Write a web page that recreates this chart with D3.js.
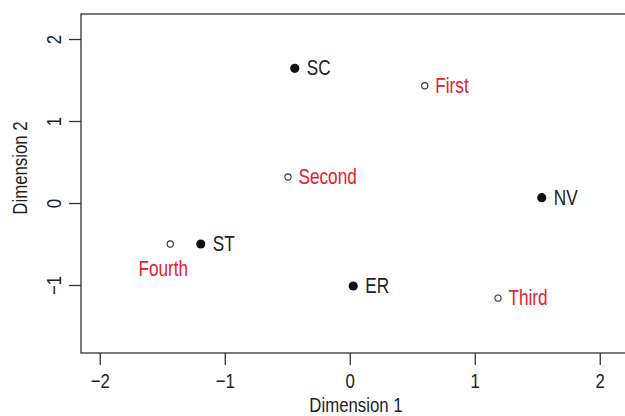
<!DOCTYPE html>
<html>
<head>
<meta charset="utf-8">
<script src="https://cdn.jsdelivr.net/npm/d3@7"></script>
<style>
  html, body { margin: 0; padding: 0; background: #fff; }
  svg { display: block; }
  text { font-family: "Liberation Sans", Arial, sans-serif; }
</style>
</head>
<body>
<svg id="chart" width="625" height="416"></svg>
<script>
// Group configuration (filled points, black labels)
const groupNames = ["SC", "NV", "ST", "ER"];
const groupDim1 = [-0.44, 1.536, -1.192, 0.028];
const groupDim2 = [1.643, 0.065, -0.50, -1.012];

// Period configuration (open points, red labels)
const periodNames = ["First", "Second", "Third", "Fourth"];
const periodDim1 = [0.60, -0.494, 1.186, -1.436];
const periodDim2 = [1.43, 0.317, -1.159, -0.50];

const xTicks = [-2, -1, 0, 1, 2];
const yTicks = [-1, 0, 1, 2];
const xTitle = "Dimension 1";
const yTitle = "Dimension 2";

const svg = d3.select("#chart");
const box = { left: 81, right: 631, top: 14, bottom: 353 };

const x = d3.scaleLinear().domain([-2.15, 2.25]).range([box.left, box.right]);
const y = d3.scaleLinear().domain([-1.829, 2.305]).range([box.bottom, box.top]);

const fs = 21.5;       // point labels
const axisFs = 21;     // tick labels and axis titles
const narrow = 0.8;    // horizontal squeeze for a condensed look
const ink = "#222";
const red = "#e8202a";
const minus = d => d < 0 ? "\u2212" + Math.abs(d) : String(d);

// text placed at (px, py) and horizontally condensed
function label(parent, px, py, str, opts = {}) {
  const rot = opts.rotate ? ` rotate(${opts.rotate})` : "";
  return parent.append("text")
    .attr("transform", `translate(${px},${py})${rot} scale(${narrow},1)`)
    .attr("text-anchor", opts.anchor || "start")
    .attr("font-size", opts.size || fs)
    .attr("fill", opts.fill || ink)
    .text(str);
}

// plot frame
svg.append("rect")
  .attr("x", box.left).attr("y", box.top)
  .attr("width", box.right - box.left).attr("height", box.bottom - box.top)
  .attr("fill", "none").attr("stroke", "#333").attr("stroke-width", 1.3);

// axes
const xAxis = svg.append("g")
  .attr("transform", `translate(0,${box.bottom})`)
  .call(d3.axisBottom(x).tickValues(xTicks).tickSize(12).tickSizeOuter(0).tickFormat(minus));
xAxis.select(".domain").remove();
xAxis.selectAll("line").attr("stroke", "#333").attr("stroke-width", 1.3);
xAxis.selectAll("text")
  .attr("y", null).attr("dy", null)
  .attr("transform", `translate(0,35) scale(${narrow},1)`)
  .attr("font-size", axisFs).attr("fill", ink)
  .attr("font-family", "Liberation Sans, Arial, sans-serif");

const yAxis = svg.append("g")
  .attr("transform", `translate(${box.left},0)`)
  .call(d3.axisLeft(y).tickValues(yTicks).tickSize(12).tickSizeOuter(0).tickFormat(minus));
yAxis.select(".domain").remove();
yAxis.selectAll("line").attr("stroke", "#333").attr("stroke-width", 1.3);
yAxis.selectAll("text")
  .attr("x", null).attr("dy", null)
  .attr("text-anchor", "middle")
  .attr("transform", `translate(-20,0) rotate(-90) scale(${narrow},1)`)
  .attr("font-size", axisFs).attr("fill", ink)
  .attr("font-family", "Liberation Sans, Arial, sans-serif");

// axis titles
label(svg, (box.left + box.right) / 2, 411.5, xTitle, { anchor: "middle", size: axisFs });
label(svg, 27, 168, yTitle, { anchor: "middle", rotate: -90, size: axisFs });

const groups = groupNames.map((n, i) => ({ name: n, d1: groupDim1[i], d2: groupDim2[i] }));
const periods = periodNames.map((n, i) => ({ name: n, d1: periodDim1[i], d2: periodDim2[i] }));

// group points and labels
svg.append("g").selectAll("circle").data(groups).join("circle")
  .attr("cx", d => x(d.d1)).attr("cy", d => y(d.d2)).attr("r", 4.6)
  .attr("fill", "#111");
const gLab = svg.append("g");
groups.forEach(d => label(gLab, x(d.d1) + 12, y(d.d2) + 7, d.name));

// period points and labels
svg.append("g").selectAll("circle").data(periods).join("circle")
  .attr("cx", d => x(d.d1)).attr("cy", d => y(d.d2)).attr("r", 3.1)
  .attr("fill", "#fff").attr("stroke", "#333").attr("stroke-width", 1.1);
const pLab = svg.append("g");
periods.forEach(d => {
  if (d.name === "Fourth") {
    label(pLab, x(d.d1) - 7, y(d.d2) + 32, d.name, { anchor: "middle", fill: red });
  } else {
    label(pLab, x(d.d1) + 10.5, y(d.d2) + 7, d.name, { fill: red });
  }
});
</script>
</body>
</html>
